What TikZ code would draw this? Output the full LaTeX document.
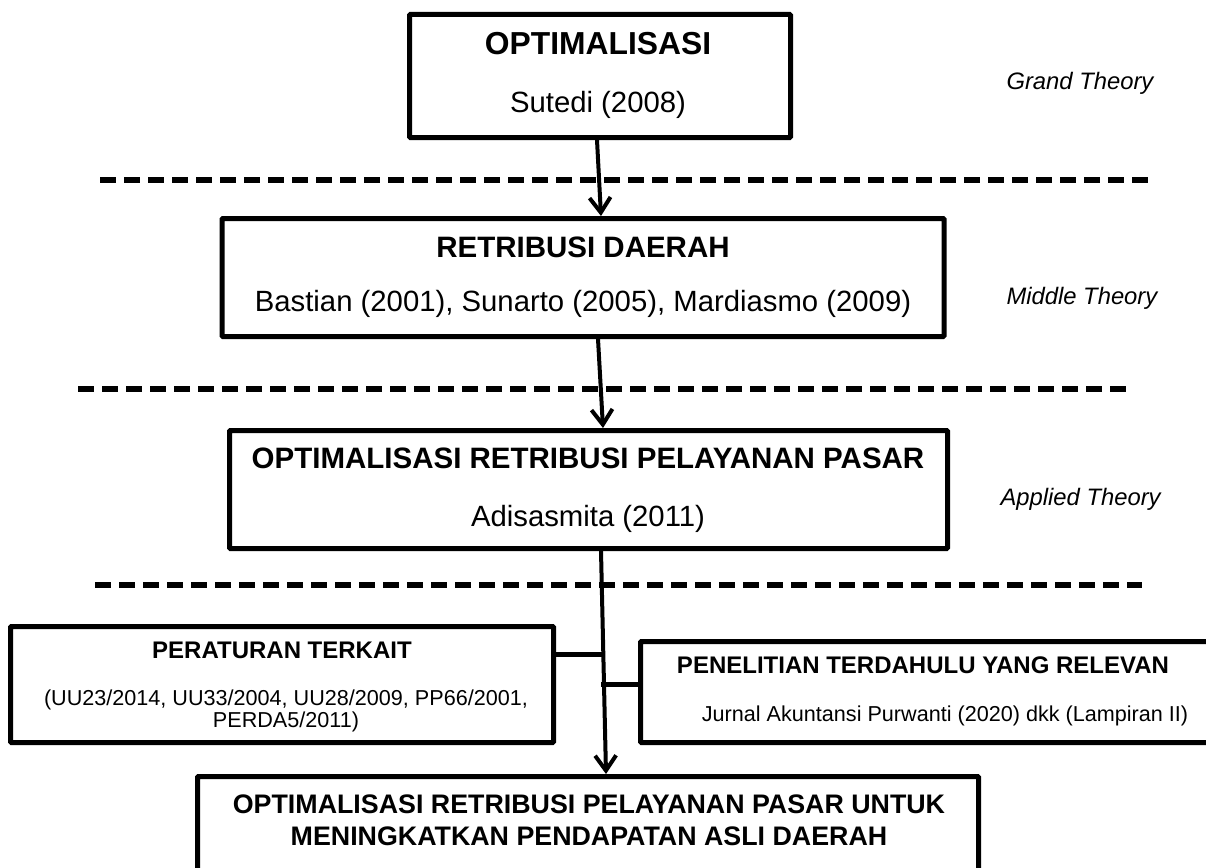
\documentclass[tikz,border=0pt]{standalone}
\usepackage{fontspec}
\setmainfont{Liberation Sans}
\usetikzlibrary{arrows.meta,calc}
\begin{document}
\begin{tikzpicture}[x=1pt,y=-1pt,
  box/.style={draw=black,line width=5pt,rounded corners=1pt,inner sep=0pt,fill=white},
  arr/.style={line width=4pt,-{Straight Barb[length=15pt,width=21pt]}},
  conn/.style={line width=5pt},
  sep/.style={line width=6.5pt,dash pattern=on 16pt off 8pt},
  ttlA/.style={font=\bfseries\fontsize{31.8}{36}\selectfont,anchor=base},
  ttl/.style={font=\bfseries\fontsize{29.5}{34}\selectfont,anchor=base},
  sub/.style={font=\fontsize{29.3}{34}\selectfont,anchor=base},
  sttl/.style={font=\bfseries\fontsize{24}{28}\selectfont,anchor=base},
  ssub/.style={font=\fontsize{21.6}{25}\selectfont,anchor=base},
  bttl/.style={font=\bfseries\fontsize{26.8}{30}\selectfont,anchor=base},
  lvl/.style={font=\itshape\fontsize{23.8}{28}\selectfont,anchor=base west}]
\useasboundingbox (0,0) rectangle (1206,867);
\clip (0,0) rectangle (1206,867);
\fill[white] (0,0) rectangle (1206,867);

% separators
\draw[sep] (100,180) -- (1150,180);
\draw[sep] (78,389) -- (1130,389);
\draw[sep] (95,585) -- (1142,585);

% boxes
\node[box,minimum width=381pt,minimum height=123pt] (b1) at (600,76) {};
\node[box,minimum width=722pt,minimum height=118pt] (b2) at (583,277.5) {};
\node[box,minimum width=718pt,minimum height=118pt] (b3) at (588.5,489.5) {};
\node[box,minimum width=543pt,minimum height=116pt] (bl) at (282,684.5) {};
\node[box,minimum width=587pt,minimum height=101pt] (br) at (934,692) {};
\node[box,minimum width=781pt,minimum height=121pt] (b4) at (588,837) {};

% texts
\node[ttlA] (t1) at (598,55) {OPTIMALISASI};
\node[sub] (s1) at (598,112) {Sutedi (2008)};
\node[ttl] (t2) at (583,257) {RETRIBUSI DAERAH};
\node[sub] (s2) at (583,311) {Bastian (2001), Sunarto (2005), Mardiasmo (2009)};
\node[ttl] (t3) at (588,468) {OPTIMALISASI RETRIBUSI PELAYANAN PASAR};
\node[sub] (s3) at (588,526) {Adisasmita (2011)};
\node[sttl] (tl) at (282,658) {PERATURAN TERKAIT};
\node[ssub] (sl1) at (286,705) {(UU23/2014, UU33/2004, UU28/2009, PP66/2001,};
\node[ssub] (sl2) at (286,727) {PERDA5/2011)};
\node[sttl] (tr) at (923,673) {PENELITIAN TERDAHULU YANG RELEVAN};
\node[ssub] (sr) at (945,721) {Jurnal Akuntansi Purwanti (2020) dkk (Lampiran II)};
\node[bttl] (t4a) at (589,813) {OPTIMALISASI RETRIBUSI PELAYANAN PASAR UNTUK};
\node[bttl] (t4b) at (589,845) {MENINGKATKAN PENDAPATAN ASLI DAERAH};

% level labels
\node[lvl] (g) at (1003,89) {Grand Theory};
\node[lvl] (m) at (1003,304) {Middle Theory};
\node[lvl] (a) at (997,505) {Applied Theory};

% arrows
\draw[arr] ([xshift=-3pt]b1.south) -- ([xshift=18pt]b2.north);
\draw[arr] ([xshift=15pt]b2.south) -- ([xshift=14.5pt]b3.north);
\coordinate (a3s) at ([xshift=12.5pt]b3.south);
\coordinate (a3e) at ([xshift=18pt]b4.north);
\draw[arr] (a3s) -- (a3e);
\coordinate (jl) at ($(a3s)!0.466!(a3e)$);
\coordinate (jr) at ($(a3s)!0.60!(a3e)$);
\draw[conn] (bl.east |- jl) -- ([xshift=2pt]jl);
\draw[conn] ([xshift=-3pt]jr) -- (br.west |- jr);
\end{tikzpicture}
\end{document}
